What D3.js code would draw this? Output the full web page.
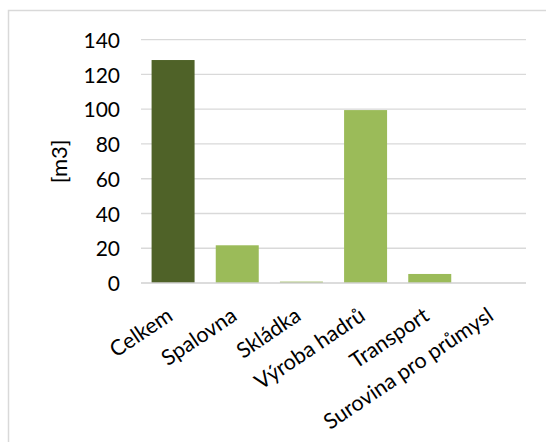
<!DOCTYPE html>
<html>
<head>
<meta charset="utf-8">
<script src="https://cdn.jsdelivr.net/npm/d3@7"></script>
<style>
html, body { margin: 0; padding: 0; background: #fff; }
svg { display: block; }
text { font-family: Lato, "Open Sans", sans-serif; fill: #000; }
</style>
</head>
<body>
<svg id="chart" width="546" height="442"></svg>
<script>
const categories = ["Celkem", "Spalovna", "Skládka", "Výroba hadrů", "Transport", "Surovina pro průmysl"];
const values = [128.3, 21.7, 0.8, 99.5, 5.2, 0];
const barColors = ["#4F6228", "#9BBB59", "#9BBB59", "#9BBB59", "#9BBB59", "#9BBB59"];
const yTicks = [0, 20, 40, 60, 80, 100, 120, 140];
const yLabel = "[m3]";

const svg = d3.select("#chart");

// chart frame
svg.append("rect")
  .attr("x", 8.5).attr("y", 10.5)
  .attr("width", 600).attr("height", 500)
  .attr("fill", "#fff").attr("stroke", "#D9D9D9").attr("stroke-width", 1.5);

const plotLeft = 141, plotRight = 526, plotTop = 39.7, plotBottom = 283;

const x = d3.scaleBand().domain(categories).range([plotLeft, plotRight]).paddingInner(0.33).paddingOuter(0.165);
const y = d3.scaleLinear().domain([0, 140]).range([plotBottom, plotTop]);

// gridlines
svg.append("g")
  .selectAll("line").data(yTicks.filter(d => d > 0)).join("line")
  .attr("x1", plotLeft).attr("x2", plotRight)
  .attr("y1", d => y(d)).attr("y2", d => y(d))
  .attr("stroke", "#D9D9D9").attr("stroke-width", 1.3);

// bars
svg.append("g")
  .selectAll("rect").data(categories).join("rect")
  .attr("x", d => x(d))
  .attr("width", x.bandwidth())
  .attr("y", (d, i) => y(values[i]))
  .attr("height", (d, i) => plotBottom - y(values[i]))
  .attr("fill", (d, i) => barColors[i]);

// x axis baseline
svg.append("line")
  .attr("x1", plotLeft).attr("x2", plotRight)
  .attr("y1", plotBottom).attr("y2", plotBottom)
  .attr("stroke", "#D0D0D0").attr("stroke-width", 1.3);

// y axis
const yAxis = d3.axisLeft(y).tickValues(yTicks).tickSize(0).tickPadding(0);
const gy = svg.append("g").attr("transform", `translate(${plotLeft - 21},0)`).call(yAxis);
gy.select(".domain").remove();
gy.selectAll("text")
  .attr("font-size", 21)
  .attr("font-family", "Lato, 'Open Sans', sans-serif")
  .attr("fill", "#000")
  .attr("dy", "0.36em");

// y label
svg.append("text")
  .attr("transform", `translate(67, ${(plotTop + plotBottom) / 2}) rotate(-90)`)
  .attr("text-anchor", "middle")
  .attr("font-size", 22)
  .text(yLabel);

// x axis labels
const xAxis = d3.axisBottom(x).tickSize(0).tickPadding(0);
const gx = svg.append("g").attr("transform", `translate(0,${plotBottom})`).call(xAxis);
gx.select(".domain").remove();
gx.selectAll("text")
  .attr("font-size", 21.5)
  .attr("font-family", "Lato, 'Open Sans', sans-serif")
  .attr("fill", "#000")
  .attr("text-anchor", "end")
  .attr("dy", null)
  .attr("y", 0)
  .attr("transform", "translate(1,36) rotate(-34)");
</script>
</body>
</html>
